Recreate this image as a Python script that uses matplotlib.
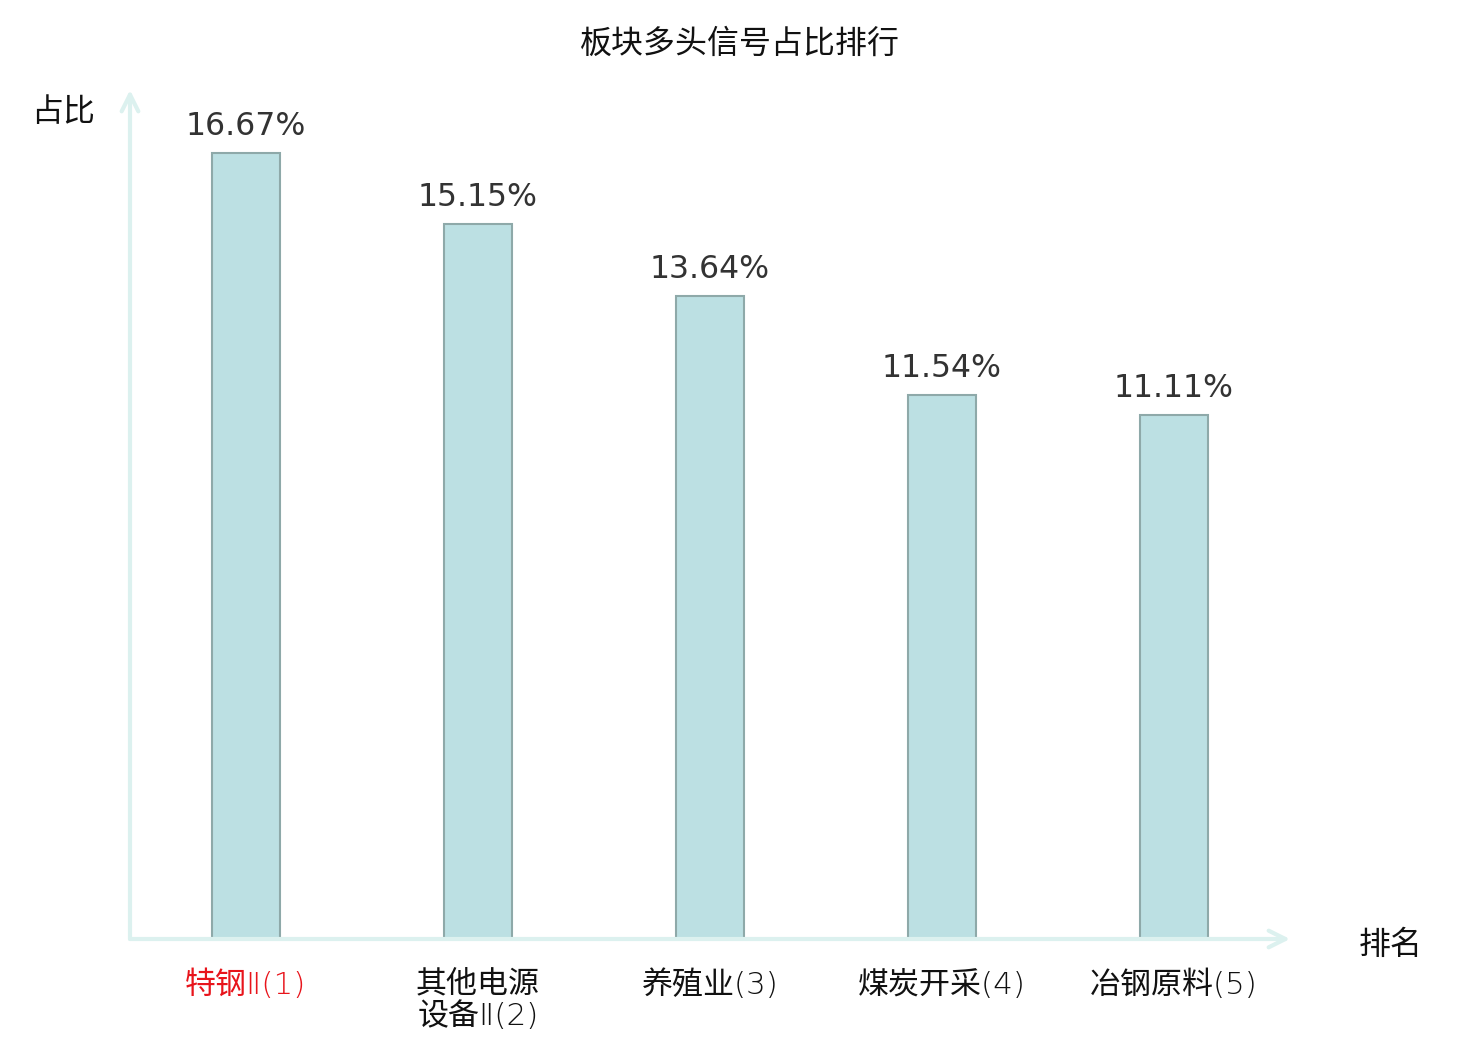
import matplotlib
matplotlib.use("Agg")
import matplotlib.pyplot as plt

plt.rcParams['font.family'] = ['Noto Sans CJK SC', 'DejaVu Sans']

categories = ["特钢Ⅱ(1)", "其他电源\n设备Ⅱ(2)", "养殖业(3)", "煤炭开采(4)", "冶钢原料(5)"]
values = [16.67, 15.15, 13.64, 11.54, 11.11]
value_labels = ["16.67%", "15.15%", "13.64%", "11.54%", "11.11%"]
label_colors = ["#e8141b", "#111111", "#111111", "#111111", "#111111"]

fig = plt.figure(figsize=(14.8, 10.4), dpi=100)
ax = fig.add_axes([130/1480, 1-939/1040, 1160/1480, 849/1040])

x = list(range(len(categories)))
ax.bar(x, values, width=0.293, color="#bce0e3", edgecolor="#8ea9a9", linewidth=1.5, zorder=3)
for xi, v, t in zip(x, values, value_labels):
    ax.annotate(t, (xi, v), xytext=(0, 8), textcoords="offset points",
                ha="center", va="bottom", fontsize=22.7, color="#333333",
                family="DejaVu Sans")

ax.set_xlim(-0.5, 4.5)
ax.set_ylim(0, 18)
for s in ax.spines.values():
    s.set_visible(False)
ax.set_yticks([])
ax.set_xticks(x)
ax.set_xticklabels(categories, fontsize=22.3, linespacing=1.12, va="top",
                   family=['DejaVu Sans', 'Noto Sans CJK SC'], fontweight="light")
for lbl, c in zip(ax.get_xticklabels(), label_colors):
    lbl.set_color(c)
ax.tick_params(axis="x", length=0, pad=22)

axis_color = "#dcf1ef"
ax.annotate("", xy=(0, 1.0), xytext=(0, 0), xycoords="axes fraction",
            arrowprops=dict(arrowstyle="->", color=axis_color, lw=3, mutation_scale=30,
                            shrinkA=0, shrinkB=0), annotation_clip=False)
ax.annotate("", xy=(1.0, 0), xytext=(0, 0), xycoords="axes fraction",
            arrowprops=dict(arrowstyle="->", color=axis_color, lw=3, mutation_scale=30,
                            shrinkA=0, shrinkB=0), annotation_clip=False)

fig.text(63/1480, 1-112/1040, "占比", ha="center", va="center", fontsize=23, color="#111111")
fig.text(1391/1480, 1-945/1040, "排名", ha="center", va="center", fontsize=23, color="#111111")
fig.text(740/1480, 1-44/1040, "板块多头信号占比排行", ha="center", va="center", fontsize=23, color="#111111")

fig.savefig("out.png", dpi=100)
